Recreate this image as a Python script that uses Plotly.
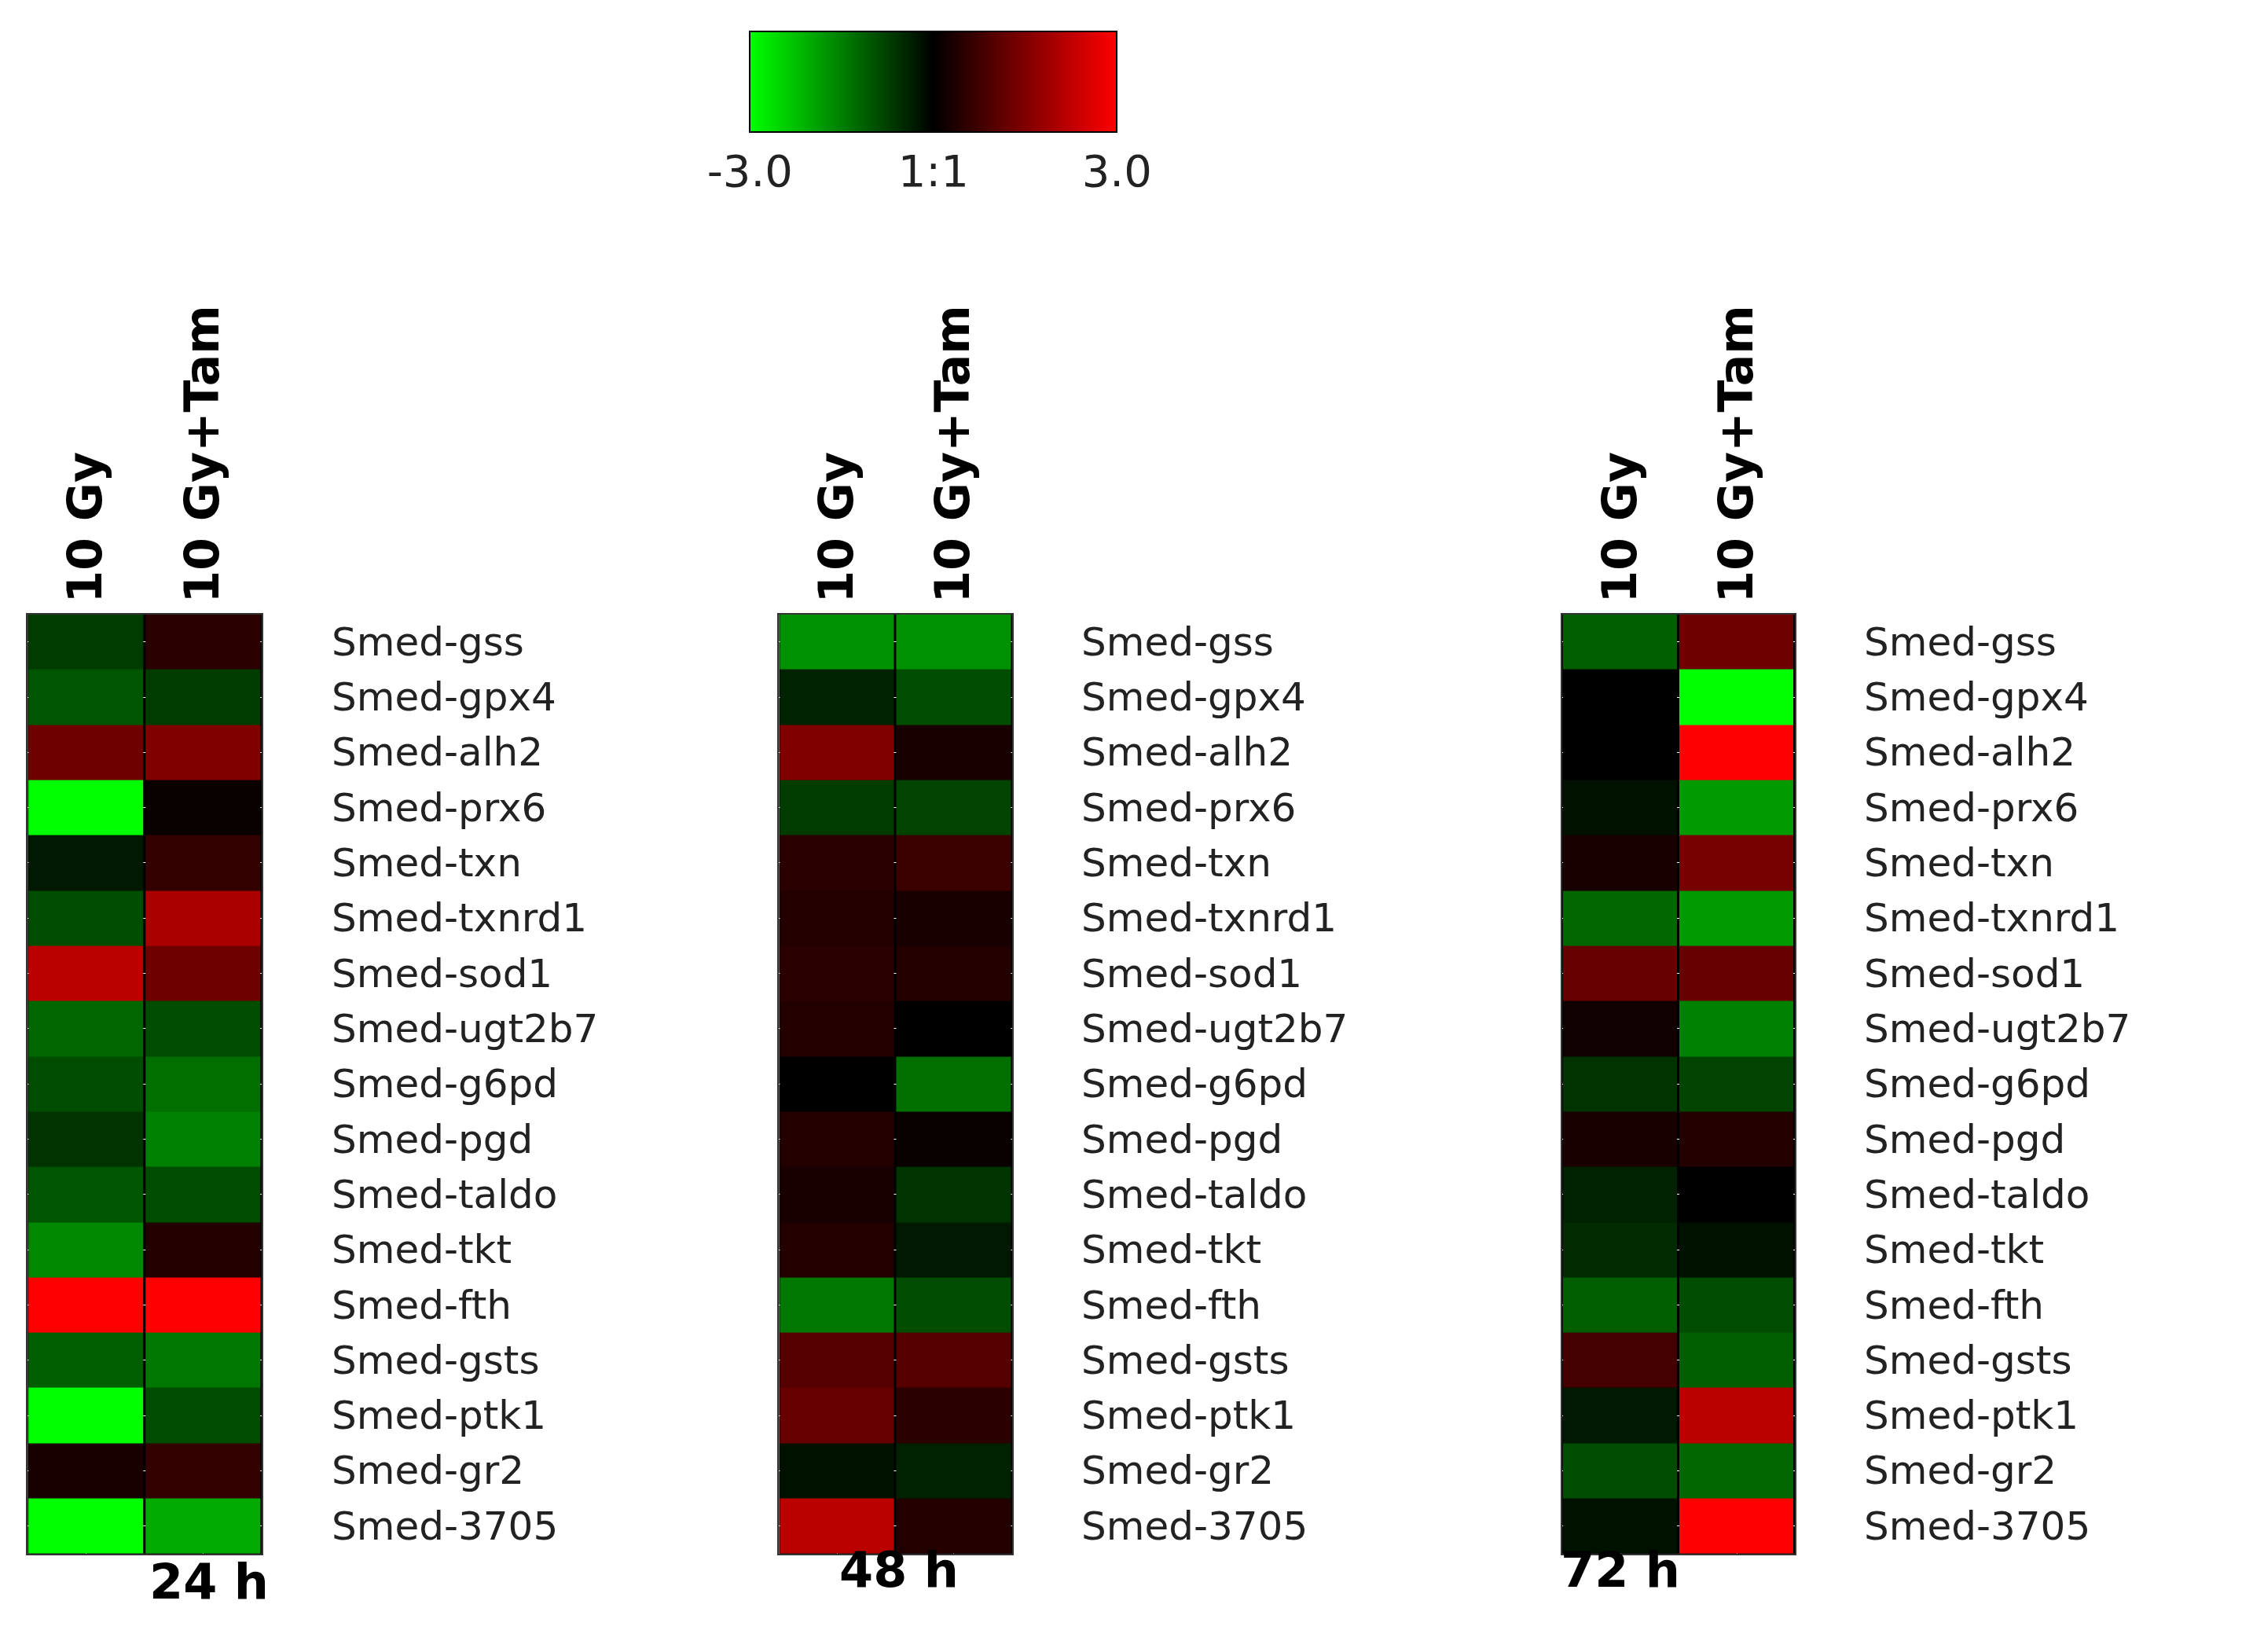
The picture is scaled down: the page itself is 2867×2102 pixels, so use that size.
import plotly.graph_objects as go

genes = ["Smed-gss","Smed-gpx4","Smed-alh2","Smed-prx6","Smed-txn","Smed-txnrd1","Smed-sod1",
         "Smed-ugt2b7","Smed-g6pd","Smed-pgd","Smed-taldo","Smed-tkt","Smed-fth","Smed-gsts",
         "Smed-ptk1","Smed-gr2","Smed-3705"]
conds = ["10 Gy", "10 Gy+Tam"]
times = ["24 h", "48 h", "72 h"]

v24_gy  = [-0.7,-1.0,1.3,-3.0,-0.3,-0.9,2.2,-1.2,-0.9,-0.6,-1.0,-1.6,3.0,-1.1,-3.0,0.3,-3.0]
v24_tam = [0.5,-0.7,1.5,0.1,0.6,2.0,1.3,-0.9,-1.3,-1.5,-0.9,0.4,3.0,-1.4,-0.9,0.6,-2.0]
v48_gy  = [-1.7,-0.4,1.5,-0.7,0.5,0.4,0.5,0.4,0.0,0.4,0.3,0.4,-1.4,1.0,1.2,-0.2,2.2]
v48_tam = [-1.7,-0.9,0.3,-0.8,0.7,0.3,0.4,0.0,-1.3,0.1,-0.6,-0.3,-0.9,1.0,0.5,-0.4,0.4]
v72_gy  = [-1.1,0.0,0.0,-0.2,0.3,-1.2,1.2,0.2,-0.6,0.3,-0.4,-0.5,-1.1,0.8,-0.3,-0.9,-0.2]
v72_tam = [1.3,-3.0,3.0,-1.8,1.4,-1.8,1.2,-1.5,-0.8,0.4,0.0,-0.2,-0.9,-1.1,2.2,-1.2,3.0]

panels = [(v24_gy, v24_tam), (v48_gy, v48_tam), (v72_gy, v72_tam)]
xdoms = [(0.0095, 0.1134), (0.343, 0.4465), (0.6906, 0.794)]
ydom = (0.0633, 0.632)
cscale = [[0, "rgb(0,255,0)"], [0.5, "rgb(0,0,0)"], [1, "rgb(255,0,0)"]]

fig = go.Figure()
for i, (a, b) in enumerate(panels):
    n = i + 1
    sfx = "" if n == 1 else str(n)
    z = [[a[r], b[r]] for r in range(len(genes))]
    fig.add_trace(go.Heatmap(
        z=z, x=conds, y=genes, zmin=-3, zmax=3, colorscale=cscale,
        xgap=3, ygap=0, xaxis=f"x{sfx}", yaxis=f"y{sfx}", showscale=(i == 0),
        colorbar=dict(orientation="h", x=0.4115, xanchor="center", y=0.9895, yanchor="top",
                      len=0.17, lenmode="fraction", thickness=128, outlinecolor="black",
                      outlinewidth=2, tickvals=[-3, 0, 3], ticktext=["-3.0", "1:1", "3.0"],
                      ticks="", tickfont=dict(family="DejaVu Sans", size=56, color="#222"))
    ))
    fig.update_layout(**{
        f"xaxis{sfx}": dict(domain=xdoms[i], side="top", tickangle=-90, anchor=f"y{sfx}",
                            tickfont=dict(family="DejaVu Sans", size=60, color="black", weight="bold"),
                            showline=True, mirror=True, linecolor="#333", linewidth=2,
                            ticks="", fixedrange=True),
        f"yaxis{sfx}": dict(domain=ydom, autorange="reversed", showticklabels=False, anchor=f"x{sfx}",
                            showline=True, mirror=True, linecolor="#333", linewidth=2, ticks=""),
    })
    for g in genes:
        fig.add_annotation(x=1.29, y=g, xref=f"x{sfx} domain", yref=f"y{sfx}", text=g,
                           showarrow=False, xanchor="left",
                           font=dict(family="DejaVu Sans", size=50, color="#222"))
    fig.add_annotation(x=(xdoms[i][0] + xdoms[i][1]) / 2 + 0.0015, y=0.028 if i == 0 else 0.035,
                       xref="paper", yref="paper", text=f"<b>{times[i]}</b>", showarrow=False,
                       font=dict(family="DejaVu Sans", size=62, color="black"))

fig.update_layout(width=2867, height=2102, margin=dict(l=0, r=0, t=0, b=0),
                  paper_bgcolor="white", plot_bgcolor="black")
fig.write_html("out.html")
